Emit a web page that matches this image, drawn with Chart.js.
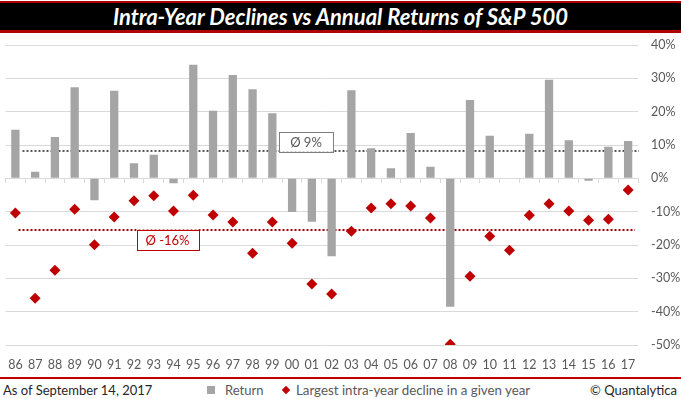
<!DOCTYPE html>
<html>
<head>
<meta charset="utf-8">
<script src="https://cdn.jsdelivr.net/npm/chart.js@4"></script>
<style>
  body { margin: 0; width: 681px; height: 399px; background: #fff; position: relative; overflow: hidden; font-family: Lato, "Open Sans", sans-serif; }
  #title { position: absolute; left: 0; top: 1px; width: 681px; height: 27px; background: #000;
           border-top: 2px solid #b00000; border-bottom: 3px solid #b00000;
           color: #fff; font-weight: bold; font-style: italic; font-size: 22px; line-height: 27px; text-align: center; }
  #wrap { position: absolute; left: 0; top: 0; width: 681px; height: 376px; }
  #footer { position: absolute; left: 0; top: 377px; width: 681px; height: 22px; border-top: 2px solid #c00000;
            font-size: 13px; color: #262626; background: #fff; }
  #footer span { position: absolute; top: 3px; white-space: nowrap; }
  .sq { display: inline-block; width: 8px; height: 8px; background: #a5a5a5; }
  .dm { display: inline-block; width: 6px; height: 6px; background: #c00000; transform: rotate(45deg); }
</style>
</head>
<body>
<div id="wrap"><canvas id="chart"></canvas></div>
<div id="title">Intra-Year Declines vs Annual Returns of S&amp;P 500</div>
<div id="footer">
  <span style="left:3px">As of September 14, 2017</span>
  <span style="left:207px; top:7px" class="sq"></span>
  <span style="left:225px; color:#595959">Return</span>
  <span style="left:283px; top:8px" class="dm"></span>
  <span style="left:296px; color:#595959; font-size:13.3px">Largest intra-year decline in a given year</span>
  <span style="right:4px">© Quantalytica</span>
</div>
<script>
// years shown on the x axis
const years = ['86','87','88','89','90','91','92','93','94','95','96','97','98','99','00','01',
               '02','03','04','05','06','07','08','09','10','11','12','13','14','15','16','17'];

// calendar year return (%)
const returns = [14.6, 2.0, 12.4, 27.3, -6.6, 26.3, 4.5, 7.1, -1.5, 34.1, 20.3, 31.0, 26.7, 19.5, -10.1, -13.0,
                 -23.4, 26.4, 9.0, 3.0, 13.6, 3.5, -38.5, 23.5, 12.8, 0.0, 13.4, 29.6, 11.4, -0.7, 9.5, 11.2];

// largest intra-year decline (%)
const declines = [-10.4, -36.0, -27.6, -9.3, -19.9, -11.6, -6.7, -5.2, -9.8, -5.1, -11.0, -13.1, -22.5, -13.1, -19.5, -31.7,
                  -34.7, -15.9, -8.9, -7.6, -8.3, -11.9, -49.8, -29.4, -17.4, -21.6, -11.1, -7.6, -9.8, -12.6, -12.3, -3.5];

// averages as drawn and as labelled
const avgReturn = 8.3, avgReturnLabel = 'Ø 9%';
const avgDecline = -15.5, avgDeclineLabel = 'Ø -16%';

const yTicks = [-50, -40, -30, -20, -10, 0, 10, 20, 30, 40];

const tickFont = { family: 'Lato', size: 12.5 };

// dotted average lines + boxed labels
const averagePlugin = {
  id: 'averages',
  beforeDatasetsDraw(chart) {
    const { ctx, chartArea, scales } = chart;
    const y = scales.y;
    ctx.save();
    ctx.lineWidth = 2;
    ctx.setLineDash([2, 2]);
    let yy = Math.round(y.getPixelForValue(avgReturn));
    ctx.strokeStyle = '#595959';
    ctx.beginPath(); ctx.moveTo(chartArea.left + 17, yy); ctx.lineTo(chartArea.right + 1, yy); ctx.stroke();
    yy = Math.round(y.getPixelForValue(avgDecline));
    ctx.strokeStyle = '#a00000';
    ctx.beginPath(); ctx.moveTo(chartArea.left + 13, yy); ctx.lineTo(chartArea.right - 3, yy); ctx.stroke();
    ctx.restore();
  },
  afterDatasetsDraw(chart) {
    const { ctx, scales } = chart;
    const x = scales.x, y = scales.y;
    const box = (cx, top, w, text, stroke, color) => {
      ctx.save();
      ctx.font = '13px Lato';
      const h = 20;
      ctx.fillStyle = '#fff';
      ctx.fillRect(cx - w / 2, top, w, h);
      ctx.strokeStyle = stroke; ctx.lineWidth = 1;
      ctx.strokeRect(Math.round(cx - w / 2) + 0.5, Math.round(top) + 0.5, w, h);
      ctx.fillStyle = color; ctx.textAlign = 'center'; ctx.textBaseline = 'middle';
      ctx.fillText(text, cx, top + h / 2 + 1);
      ctx.restore();
    };
    const cx1 = (x.getPixelForValue(14) + x.getPixelForValue(15)) / 2 + 4;
    box(cx1, y.getPixelForValue(avgReturn) - 19, 54, avgReturnLabel, '#7f7f7f', '#595959');
    const cx2 = x.getPixelForValue(8) - 6;
    box(cx2, y.getPixelForValue(avgDecline) - 0.5, 62, avgDeclineLabel, '#c00000', '#c00000');
  }
};

new Chart(document.getElementById('chart'), {
  data: {
    labels: years,
    datasets: [
      {
        type: 'line',
        label: 'Largest intra-year decline in a given year',
        data: declines,
        showLine: false,
        pointStyle: 'rectRot',
        pointRadius: 5.5,
        pointBackgroundColor: '#c00000',
        pointBorderColor: '#c00000',
        pointBorderWidth: 0,
        order: 0
      },
      {
        type: 'bar',
        label: 'Return',
        data: returns,
        backgroundColor: '#a5a5a5',
        barPercentage: 0.42,
        categoryPercentage: 1,
        order: 1
      }
    ]
  },
  options: {
    responsive: true,
    maintainAspectRatio: false,
    animation: false,
    layout: { padding: { top: 45, left: 1, right: 0, bottom: 0 } },
    plugins: { legend: { display: false }, tooltip: { enabled: false } },
    scales: {
      x: {
        type: 'category',
        offset: true,
        grid: { display: false },
        border: { display: false },
        ticks: { color: '#595959', font: tickFont, padding: 4, maxRotation: 0, autoSkip: false }
      },
      x0: {
        type: 'category',
        labels: years,
        offset: true,
        position: { y: 0 },
        grid: { offset: true, drawOnChartArea: false, tickLength: 4, color: '#d9d9d9' },
        border: { color: '#d9d9d9' },
        ticks: { display: false }
      },
      y: {
        position: 'right',
        min: -50,
        max: 40,
        afterBuildTicks(axis) { axis.ticks = yTicks.map(v => ({ value: v })); },
        afterFit(axis) { axis.width = 43; },
        grid: { color: '#d9d9d9', drawTicks: false },
        border: { display: false },
        ticks: { color: '#595959', font: tickFont, padding: 13, callback: v => v + '%' }
      }
    }
  },
  plugins: [averagePlugin]
});
</script>
</body>
</html>
